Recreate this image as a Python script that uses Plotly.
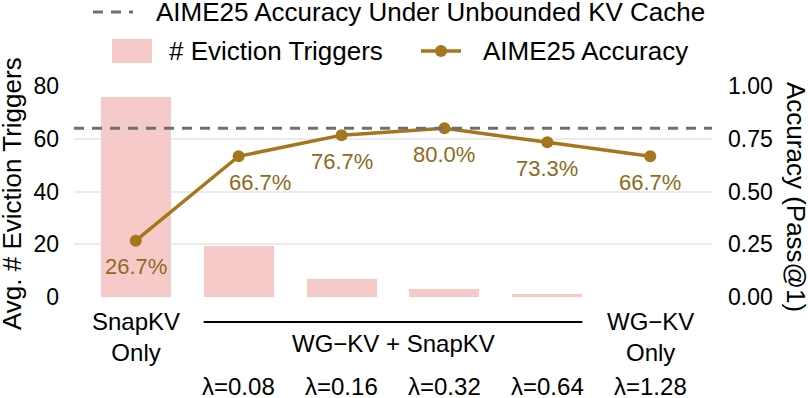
import plotly.graph_objects as go

# ---------------- data ----------------
methods = ["SnapKV<br>Only", "WG−KV + SnapKV", "WG−KV + SnapKV", "WG−KV + SnapKV", "WG−KV + SnapKV", "WG−KV<br>Only"]
lambda_labels = ["", "λ=0.08", "λ=0.16", "λ=0.32", "λ=0.64", "λ=1.28"]
eviction_triggers = [76, 19.5, 7, 3, 1, 0]
accuracy = [0.267, 0.667, 0.767, 0.800, 0.733, 0.667]
accuracy_labels = ["26.7%", "66.7%", "76.7%", "80.0%", "73.3%", "66.7%"]
unbounded_accuracy = 0.80
left_ticks = [0, 20, 40, 60, 80]
right_ticks = [0, 0.25, 0.5, 0.75, 1.0]

# ---------------- style ----------------
W, H = 808, 398
ML, MR, MT, MB = 74, 96, 86, 101
PW, PH = W - ML - MR, H - MT - MB
FONT = "Liberation Sans, Arial, Helvetica, sans-serif"
GOLD = "#A6761D"
LABEL_GOLD = "#8E6A1E"
PINK = "#F7CACA"
GREY = "#707070"
BAR_W = 0.68
# horizontal nudge (px) of value labels, keyed by point index (to keep text clear of the line)
LABEL_XSHIFT = {1: 21}

def pxx(px):
    return (px - ML) / PW

def pxy(py):
    return (H - MB - py) / PH

x = list(range(len(methods)))

fig = go.Figure()
fig.add_trace(go.Bar(x=x, y=eviction_triggers, width=BAR_W, marker=dict(color=PINK, line=dict(width=0)),
                     name="# Eviction Triggers", showlegend=False, yaxis="y", hoverinfo="skip"))
fig.add_trace(go.Scatter(x=x, y=accuracy, mode="lines+markers", yaxis="y2",
                         line=dict(color=GOLD, width=3.5), marker=dict(color=GOLD, size=12),
                         name="AIME25 Accuracy", showlegend=False, cliponaxis=False, hoverinfo="skip"))

shapes = []
annotations = []

# unbounded reference line
shapes.append(dict(type="line", xref="paper", x0=0, x1=1, yref="y2", y0=unbounded_accuracy, y1=unbounded_accuracy,
                   line=dict(color=GREY, width=3, dash="10px,8px"), layer="above"))

# value labels
for i, (xi, yi, lab) in enumerate(zip(x, accuracy, accuracy_labels)):
    annotations.append(dict(x=xi, y=yi, xref="x", yref="y2", text=lab, showarrow=False,
                            yshift=-26, xshift=LABEL_XSHIFT.get(i, 0),
                            font=dict(family=FONT, size=22, color=LABEL_GOLD)))

# x category labels
group_idx = [i for i, m in enumerate(methods) if "+" in m]
for i, m in enumerate(methods):
    if i in group_idx:
        continue
    annotations.append(dict(x=i, y=0, xref="x", yref="paper", text=m, showarrow=False,
                            yanchor="middle", yshift=-40, font=dict(family=FONT, size=24, color="black")))
gc = sum(group_idx) / len(group_idx)
annotations.append(dict(x=gc, y=0, xref="x", yref="paper", text=methods[group_idx[0]], showarrow=False,
                        yanchor="middle", yshift=-46, font=dict(family=FONT, size=24, color="black")))
shapes.append(dict(type="line", xref="x", x0=group_idx[0] - BAR_W / 2, x1=group_idx[-1] + BAR_W / 2,
                   yref="paper", y0=pxy(322), y1=pxy(322), line=dict(color="black", width=2)))
for i, lab in enumerate(lambda_labels):
    if lab:
        annotations.append(dict(x=i, y=0, xref="x", yref="paper", text=lab, showarrow=False, borderpad=0,
                                yanchor="middle", yshift=-89, font=dict(family=FONT, size=24, color="black")))

# axis titles
annotations.append(dict(x=pxx(12), y=pxy(194), xref="paper", yref="paper", text="Avg. # Eviction Triggers",
                        textangle=-90, showarrow=False, xanchor="center", yanchor="middle",
                        font=dict(family=FONT, size=26, color="black")))
annotations.append(dict(x=pxx(796), y=pxy(197), xref="paper", yref="paper", text="Accuracy (Pass@1)",
                        textangle=90, showarrow=False, xanchor="center", yanchor="middle",
                        font=dict(family=FONT, size=26, color="black")))

# manual legend
shapes.append(dict(type="line", xref="paper", yref="paper", x0=pxx(93), x1=pxx(133), y0=pxy(12), y1=pxy(12),
                   line=dict(color=GREY, width=3, dash="10px,8px")))
annotations.append(dict(x=pxx(154), y=pxy(12), xref="paper", yref="paper", xanchor="left", yanchor="middle",
                        text="AIME25 Accuracy Under Unbounded KV Cache", showarrow=False,
                        font=dict(family=FONT, size=26, color="black")))
shapes.append(dict(type="rect", xref="paper", yref="paper", x0=pxx(112), x1=pxx(152), y0=pxy(63), y1=pxy(39),
                   fillcolor=PINK, line=dict(width=0)))
annotations.append(dict(x=pxx(167), y=pxy(51), xref="paper", yref="paper", xanchor="left", yanchor="middle",
                        text="# Eviction Triggers", showarrow=False,
                        font=dict(family=FONT, size=26, color="black")))
shapes.append(dict(type="line", xref="paper", yref="paper", x0=pxx(421), x1=pxx(461), y0=pxy(51), y1=pxy(51),
                   line=dict(color=GOLD, width=3.5)))
shapes.append(dict(type="circle", xref="paper", yref="paper", x0=pxx(435), x1=pxx(447), y0=pxy(57), y1=pxy(45),
                   fillcolor=GOLD, line=dict(width=0)))
annotations.append(dict(x=pxx(481), y=pxy(51), xref="paper", yref="paper", xanchor="left", yanchor="middle",
                        text="AIME25 Accuracy", showarrow=False,
                        font=dict(family=FONT, size=26, color="black")))

fig.update_layout(
    width=W, height=H,
    margin=dict(l=ML, r=MR, t=MT, b=MB, pad=0),
    paper_bgcolor="white", plot_bgcolor="white",
    font=dict(family=FONT, size=23, color="black"),
    showlegend=False,
    hovermode=False,
    bargap=0,
    xaxis=dict(range=[-0.6, len(methods) - 0.4], showticklabels=False, showgrid=False, zeroline=False,
               ticks="", showline=False),
    yaxis=dict(range=[0, 80], tickvals=left_ticks, showgrid=True, gridcolor="#EBEBEB", gridwidth=2,
               zeroline=False, ticks="", showline=False, tickfont=dict(size=23), ticklabelstandoff=14),
    yaxis2=dict(range=[0, 1], tickvals=right_ticks, tickformat=".2f", overlaying="y", side="right",
                showgrid=False, zeroline=False, ticks="", showline=False, tickfont=dict(size=23),
                ticklabelstandoff=15),
    shapes=shapes,
    annotations=annotations,
)

fig.write_html("out.html", config={"displayModeBar": False, "staticPlot": True},
               post_script="document.body.style.margin='0';document.body.style.overflow='hidden';")
